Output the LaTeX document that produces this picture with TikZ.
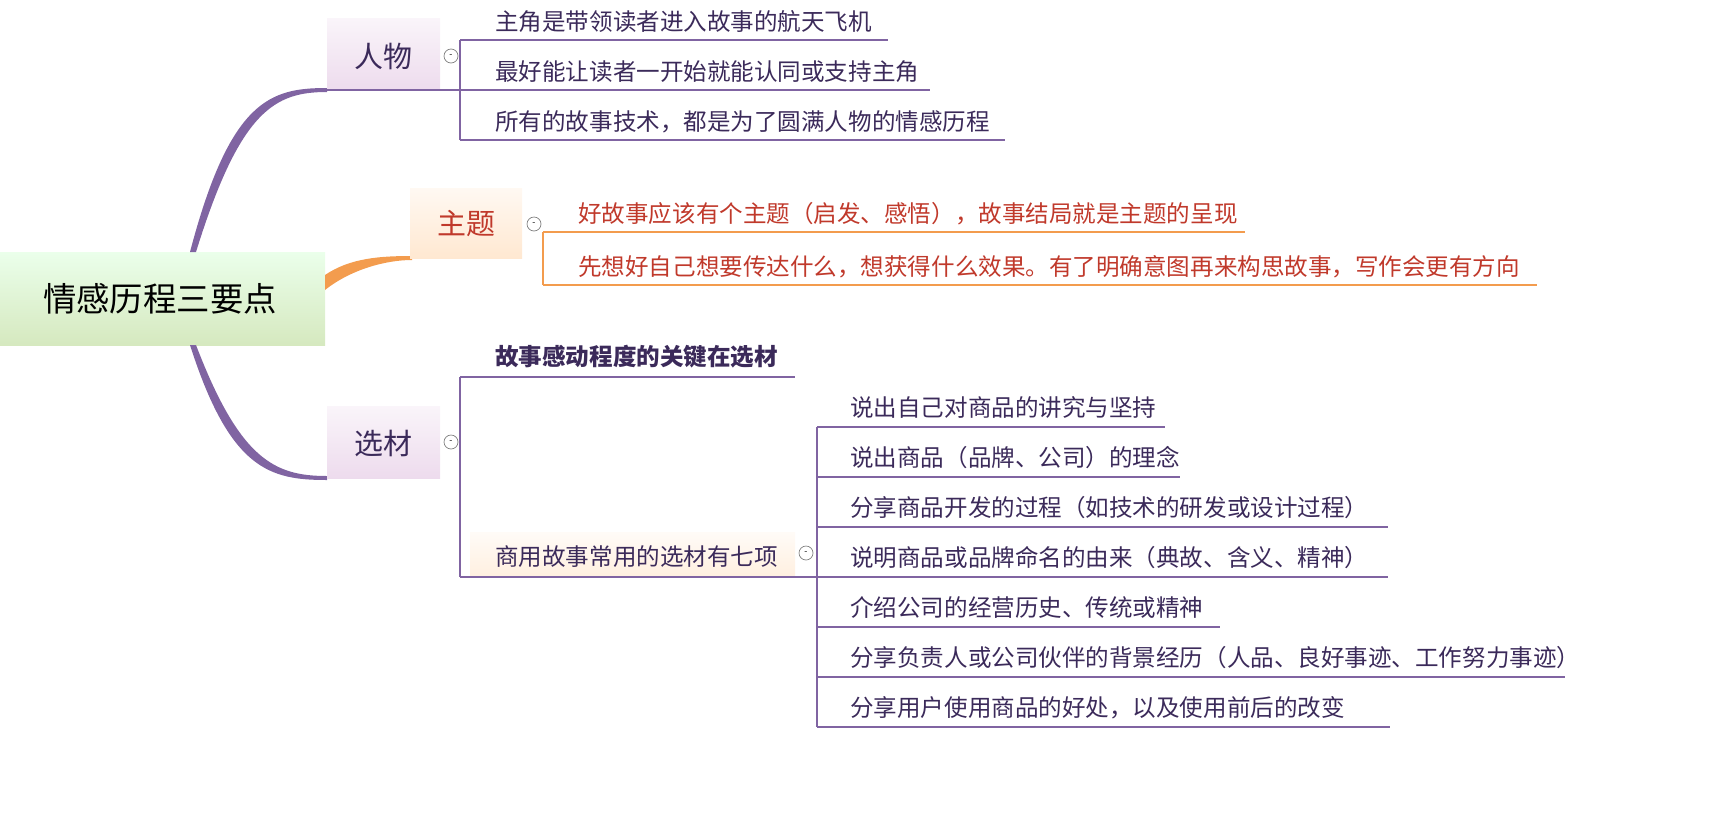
\documentclass[tikz,border=0pt]{standalone}
\usepackage{fontspec}
\setmainfont{Noto Sans CJK SC}
\usetikzlibrary{positioning}
\definecolor{vio}{HTML}{8064A2}
\definecolor{ink}{HTML}{3B2A5A}
\definecolor{org}{HTML}{F39C4E}
\definecolor{redt}{HTML}{C0392B}
\tikzset{
  leaf/.style={anchor=south west, inner sep=0pt, font=\fontsize{13.4}{16}\selectfont, text=ink},
  topic/.style={inner sep=0pt, font=\fontsize{16.5}{19}\selectfont},
  fold/.style={draw=gray, circle, inner sep=0pt, minimum size=0.28cm, font=\tiny},
  vline/.style={draw=vio, line width=1.3pt},
  oline/.style={draw=org, line width=1.3pt}
}
\begin{document}
\begin{tikzpicture}[x=0.02cm,y=-0.02cm]
\useasboundingbox (0,0) rectangle (1730,822);
% root
\shade[top color=green!8, bottom color=green!30!olive!25] (0,252) rectangle (325,345);
\node[topic, font=\fontsize{19}{22}\selectfont] (root) at (160,299) {情感历程三要点};
% main branches
\fill[vio] (190,252) .. controls (230,100) and (270,88) .. (327,88) -- (327,92) .. controls (275,92) and (240,110) .. (196,252) -- cycle;
\fill[org] (325,275) .. controls (350,258) and (380,256) .. (412,256) -- (412,260) .. controls (385,260) and (350,270) .. (325,290) -- cycle;
\fill[vio] (190,345) .. controls (230,470) and (270,480) .. (327,480) -- (327,476) .. controls (275,476) and (240,460) .. (196,345) -- cycle;
% 人物
\shade[top color=violet!4, bottom color=violet!14] (327,18) rectangle (440,90);
\node[topic, text=ink] (renwu) at (383,56) {人物};
\node[fold] (f1) at (451,56) {-};
\draw[vline] (327,90) -- (460,90);
\draw[vline] (460,40) -- (460,140);
\draw[vline] (460,40) -- (888,40);
\draw[vline] (460,90) -- (930,90);
\draw[vline] (460,140) -- (1005,140);
\node[leaf] (r1) at (495,33) {主角是带领读者进入故事的航天飞机};
\node[leaf] (r2) at (495,83) {最好能让读者一开始就能认同或支持主角};
\node[leaf] (r3) at (495,133) {所有的故事技术，都是为了圆满人物的情感历程};
% 主题
\shade[top color=orange!5, bottom color=orange!18] (410,188) rectangle (522,258);
\node[topic, text=redt] (zhuti) at (466,224) {主题};
\node[fold] (f2) at (534,224) {-};
\draw[oline] (543,232) -- (543,285);
\draw[oline] (543,232) -- (1245,232);
\draw[oline] (543,285) -- (1537,285);
\node[leaf, text=redt] (z1) at (578,225) {好故事应该有个主题（启发、感悟），故事结局就是主题的呈现};
\node[leaf, text=redt] (z2) at (578,278) {先想好自己想要传达什么，想获得什么效果。有了明确意图再来构思故事，写作会更有方向};
% 选材
\shade[top color=violet!4, bottom color=violet!14] (327,406) rectangle (440,478);
\node[topic, text=ink] (xuancai) at (383,443) {选材};
\node[fold] (f3) at (451,442) {-};
\draw[vline] (460,377) -- (460,577);
\draw[vline] (460,377) -- (795,377);
\draw[vline] (460,577) -- (817,577);
\node[leaf, font=\bfseries\fontsize{13.4}{16}\selectfont] (x1) at (495,368) {故事感动程度的关键在选材};
\shade[top color=orange!3, bottom color=orange!12] (470,532) rectangle (795,575);
\node[leaf] (x2) at (495,568) {商用故事常用的选材有七项};
\node[fold] (f4) at (806,553) {-};
\draw[vline] (817,427) -- (817,727);
\foreach \t/\y/\e [count=\i] in {说出自己对商品的讲究与坚持/427/1165,
  说出商品（品牌、公司）的理念/477/1180,
  分享商品开发的过程（如技术的研发或设计过程）/527/1388,
  说明商品或品牌命名的由来（典故、含义、精神）/577/1388,
  介绍公司的经营历史、传统或精神/627/1220,
  分享负责人或公司伙伴的背景经历（人品、良好事迹、工作努力事迹）/677/1565,
  分享用户使用商品的好处，以及使用前后的改变/727/1390}{
  \draw[vline] (817,\y) -- (\e,\y);
  \node[leaf] (s\i) at (850,\y-8) {\t};
}
\end{tikzpicture}
\end{document}
